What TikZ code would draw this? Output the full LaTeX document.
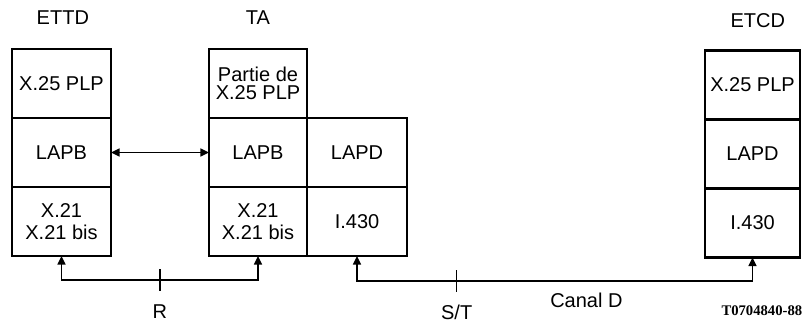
\documentclass[tikz,border=0pt]{standalone}
\usepackage{fontspec}
\setmainfont{Liberation Sans}
\setsansfont{Liberation Sans}
\newfontfamily\refserif{Liberation Serif}
\usetikzlibrary{positioning,arrows.meta}

\begin{document}
\begin{tikzpicture}[x=0.75pt, y=-0.75pt, node distance=0pt,
  every node/.style={font=\fontsize{15}{16}\selectfont}]
  \tikzstyle{cell}=[rectangle, draw, line width=1.6pt, outer sep=0pt,
  minimum height=51.75pt, align=center, inner sep=1pt]
  \tikzstyle{ettdcol}=[cell, minimum width=74.25pt]
  \tikzstyle{tacol}=[cell, minimum width=73.5pt]
  \tikzstyle{isdncol}=[cell, minimum width=75pt]
  \tikzstyle{etcdcol}=[cell, minimum width=71.25pt]
  \tikzstyle{head}=[inner sep=0pt]
  \tikzstyle{link}=[line width=1.2pt,
  {Triangle[length=6.5pt,width=6pt]}-{Triangle[length=6.5pt,width=6pt]}]
  \tikzstyle{tick}=[line width=1.2pt]
  \useasboundingbox (0,0) rectangle (803,324);
  % ETTD
  \node[ettdcol] (ettdplp) at (61.5,83.5) {X.25 PLP};
  \node[ettdcol, below=of ettdplp] (ettdlapb) {LAPB};
  \node[ettdcol, below=of ettdlapb] (ettdphy) {X.21\\X.21 bis};
  \node[head, above=18.5pt of ettdplp, xshift=1pt] (ettd) {ETTD};
  % TA
  \node[tacol] (taplp) at (258,83.5) {Partie de\\[-2pt]X.25 PLP};
  \node[tacol, below=of taplp] (talapb) {LAPB};
  \node[tacol, below=of talapb] (taphy) {X.21\\X.21 bis};
  \node[isdncol, right=of talapb] (talapd) {LAPD};
  \node[isdncol, below=of talapd] (tai430) {I.430};
  \node[head, above=18.5pt of taplp] (ta) {TA};
  % ETCD
  \node[etcdcol] (etcdplp) at (752.5,85) {X.25 PLP};
  \node[etcdcol, below=of etcdplp] (etcdlapd) {LAPD};
  \node[etcdcol, below=of etcdlapd] (etcdphy) {I.430};
  \node[head, above=17pt of etcdplp, xshift=4pt] (etcd) {ETCD};
  % liaisons
  \draw[link] (ettdlapb) -- (talapb);
  \draw[link] (ettdphy.south) -- ++(0,24) -| coordinate[pos=0.25] (rtick) (taphy.south);
  \draw[tick] (rtick) ++(0,-11) -- ++(0,22);
  \node[head, below=18.5pt of rtick] (rlabel) {R};
  \draw[link] (tai430.south) -- ++(0,25) -| coordinate[pos=0.126] (sttick)
    node[head, pos=0.29, below=8.5pt] (canald) {Canal D} (etcdphy.south);
  \draw[tick] (sttick) ++(0,-11) -- ++(0,22);
  \node[head, below=18pt of sttick] (stlabel) {S/T};
  \node[head, below=36pt of etcdphy, xshift=7pt, font=\refserif\bfseries\fontsize{11}{12}\selectfont] (ref) {T0704840-88};
\end{tikzpicture}
\end{document}
